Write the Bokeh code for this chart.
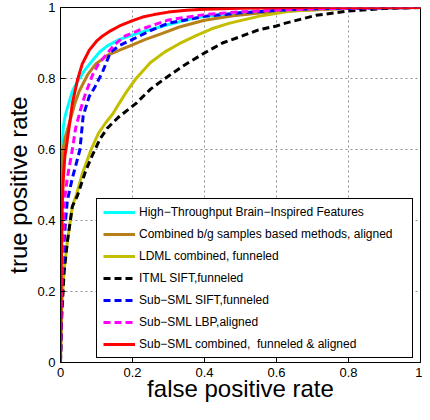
from bokeh.plotting import figure
from bokeh.models import FixedTicker, CustomJSTickFormatter, Range1d
from bokeh.embed import file_html
from bokeh.resources import INLINE

# ---- data ----
cyan_x = [0, 0.001, 0.004, 0.008, 0.013, 0.02, 0.033, 0.05, 0.07, 0.09, 0.108, 0.13, 0.164, 0.2, 0.236, 0.3, 0.35, 0.4, 0.5, 0.6, 0.7, 0.8, 0.9, 1.0]
cyan_y = [0, 0.40, 0.60, 0.665, 0.695, 0.72, 0.764, 0.797, 0.827, 0.852, 0.874, 0.892, 0.91, 0.923, 0.934, 0.952, 0.965, 0.975, 0.985, 0.991, 0.995, 0.998, 0.999, 1.0]

brown_x = [0, 0.001, 0.005, 0.012, 0.025, 0.04, 0.052, 0.075, 0.097, 0.13, 0.164, 0.2, 0.236, 0.283, 0.33, 0.4, 0.48, 0.56, 0.65, 0.75, 0.85, 1.0]
brown_y = [0, 0.50, 0.585, 0.63, 0.676, 0.73, 0.764, 0.81, 0.84, 0.865, 0.88, 0.895, 0.91, 0.927, 0.945, 0.964, 0.977, 0.985, 0.991, 0.996, 0.999, 1.0]

yellow_x = [0, 0.003, 0.01, 0.019, 0.033, 0.045, 0.06, 0.085, 0.105, 0.126, 0.145, 0.163, 0.185, 0.21, 0.25, 0.29, 0.33, 0.375, 0.42, 0.47, 0.55, 0.64, 0.75, 0.85, 1.0]
yellow_y = [0, 0.15, 0.26, 0.34, 0.44, 0.475, 0.53, 0.60, 0.645, 0.676, 0.70, 0.73, 0.765, 0.80, 0.845, 0.875, 0.898, 0.92, 0.94, 0.956, 0.975, 0.99, 0.996, 0.999, 1.0]

black_x = [0, 0.003, 0.01, 0.019, 0.033, 0.047, 0.07, 0.089, 0.11, 0.13, 0.16, 0.21, 0.25, 0.29, 0.34, 0.40, 0.45, 0.505, 0.55, 0.6, 0.625, 0.71, 0.8, 0.895, 1.0]
black_y = [0, 0.12, 0.255, 0.34, 0.44, 0.47, 0.54, 0.585, 0.63, 0.66, 0.69, 0.73, 0.77, 0.80, 0.835, 0.872, 0.90, 0.92, 0.937, 0.948, 0.956, 0.978, 0.99, 0.997, 1.0]

blue_x = [0, 0.002, 0.006, 0.01, 0.014, 0.019, 0.033, 0.045, 0.054, 0.063, 0.08, 0.094, 0.117, 0.139, 0.164, 0.2, 0.25, 0.3, 0.4, 0.5, 0.6, 0.7, 0.8, 0.9, 1.0]
blue_y = [0, 0.12, 0.25, 0.34, 0.40, 0.456, 0.52, 0.565, 0.60, 0.695, 0.75, 0.773, 0.819, 0.874, 0.893, 0.91, 0.935, 0.956, 0.975, 0.985, 0.992, 0.996, 0.998, 0.999, 1.0]

magenta_x = [0, 0.002, 0.006, 0.009, 0.011, 0.019, 0.033, 0.042, 0.055, 0.067, 0.089, 0.105, 0.125, 0.15, 0.18, 0.22, 0.256, 0.3, 0.4, 0.5, 0.6, 0.7, 0.8, 0.9, 1.0]
magenta_y = [0, 0.15, 0.30, 0.40, 0.456, 0.52, 0.60, 0.66, 0.71, 0.75, 0.81, 0.84, 0.865, 0.895, 0.92, 0.937, 0.95, 0.965, 0.98, 0.988, 0.993, 0.996, 0.998, 0.999, 1.0]

red_x = [0, 0.002, 0.005, 0.008, 0.012, 0.018, 0.025, 0.033, 0.047, 0.06, 0.08, 0.1, 0.117, 0.14, 0.164, 0.2, 0.228, 0.26, 0.3, 0.35, 0.4, 0.5, 0.6, 0.7, 1.0]
red_y = [0, 0.25, 0.45, 0.52, 0.58, 0.62, 0.67, 0.73, 0.795, 0.84, 0.88, 0.905, 0.92, 0.935, 0.948, 0.963, 0.973, 0.98, 0.987, 0.992, 0.995, 0.998, 0.999, 1.0, 1.0]

series_labels = [
    "High\u2212Throughput Brain\u2212Inspired Features",
    "Combined b/g samples based methods, aligned",
    "LDML combined, funneled",
    "ITML SIFT,funneled",
    "Sub\u2212SML SIFT,funneled",
    "Sub\u2212SML LBP,aligned",
    "Sub\u2212SML combined,  funneled & aligned",
]
series_colors = ["#00FFFF", "#B8801A", "#C4BE00", "#000000", "#0000FF", "#FF00FF", "#FF0000"]
series_dash = ["solid", "solid", "solid", "7 4", "7 4", "7 4", "solid"]
tick_values = [0, 0.2, 0.4, 0.6, 0.8, 1.0]

FONT = "Liberation Sans"

p = figure(width=422, height=404, output_backend="svg", toolbar_location=None,
           x_range=Range1d(0, 1), y_range=Range1d(0, 1),
           min_border_left=60, min_border_right=2, min_border_top=7, min_border_bottom=0)

p.outline_line_color = "black"
p.outline_line_width = 1
p.outline_line_alpha = 1.0

xs = [cyan_x, brown_x, yellow_x, black_x, blue_x, magenta_x, red_x]
ys = [cyan_y, brown_y, yellow_y, black_y, blue_y, magenta_y, red_y]
for x, y, lab, col, dash in zip(xs, ys, series_labels, series_colors, series_dash):
    p.line(x, y, line_color=col, line_width=3, line_dash=dash, legend_label=lab)

fmt = CustomJSTickFormatter(code="return String(Math.round(tick*10)/10);")
for ax in (p.xaxis[0], p.yaxis[0]):
    ax.ticker = FixedTicker(ticks=tick_values)
    ax.formatter = fmt
    ax.major_tick_in = 5
    ax.major_tick_out = 0
    ax.minor_tick_line_color = None
    ax.axis_line_color = "black"
    ax.major_tick_line_color = "black"
    ax.major_label_text_font = FONT
    ax.major_label_text_font_size = "13px"
    ax.major_label_text_color = "black"
    ax.axis_label_text_font = FONT
    ax.axis_label_text_font_size = "24px"
    ax.axis_label_text_font_style = "normal"
    ax.axis_label_text_color = "black"

p.xaxis.axis_label = "false positive rate"
p.yaxis.axis_label = "true positive rate"
p.xaxis.major_label_standoff = 5
p.xaxis.axis_label_standoff = -5
p.yaxis.major_label_standoff = 5
p.yaxis.axis_label_standoff = 2

for g in (p.xgrid[0], p.ygrid[0]):
    g.ticker = FixedTicker(ticks=tick_values)
    g.grid_line_color = "#909090"
    g.grid_line_dash = "2 3"
    g.grid_line_width = 1

lg = p.legend[0]
lg.location = (36, 4)
lg.margin = 0
lg.padding = 6
lg.spacing = 8
lg.glyph_width = 32
lg.glyph_height = 14
lg.label_height = 14
lg.label_width = 267
lg.label_standoff = 4
lg.label_text_font = FONT
lg.label_text_font_size = "12px"
lg.label_text_color = "black"
lg.border_line_color = "black"
lg.border_line_width = 1
lg.border_line_alpha = 1.0
lg.background_fill_color = "white"
lg.background_fill_alpha = 1.0

open("out.html", "w").write(file_html(p, INLINE))
